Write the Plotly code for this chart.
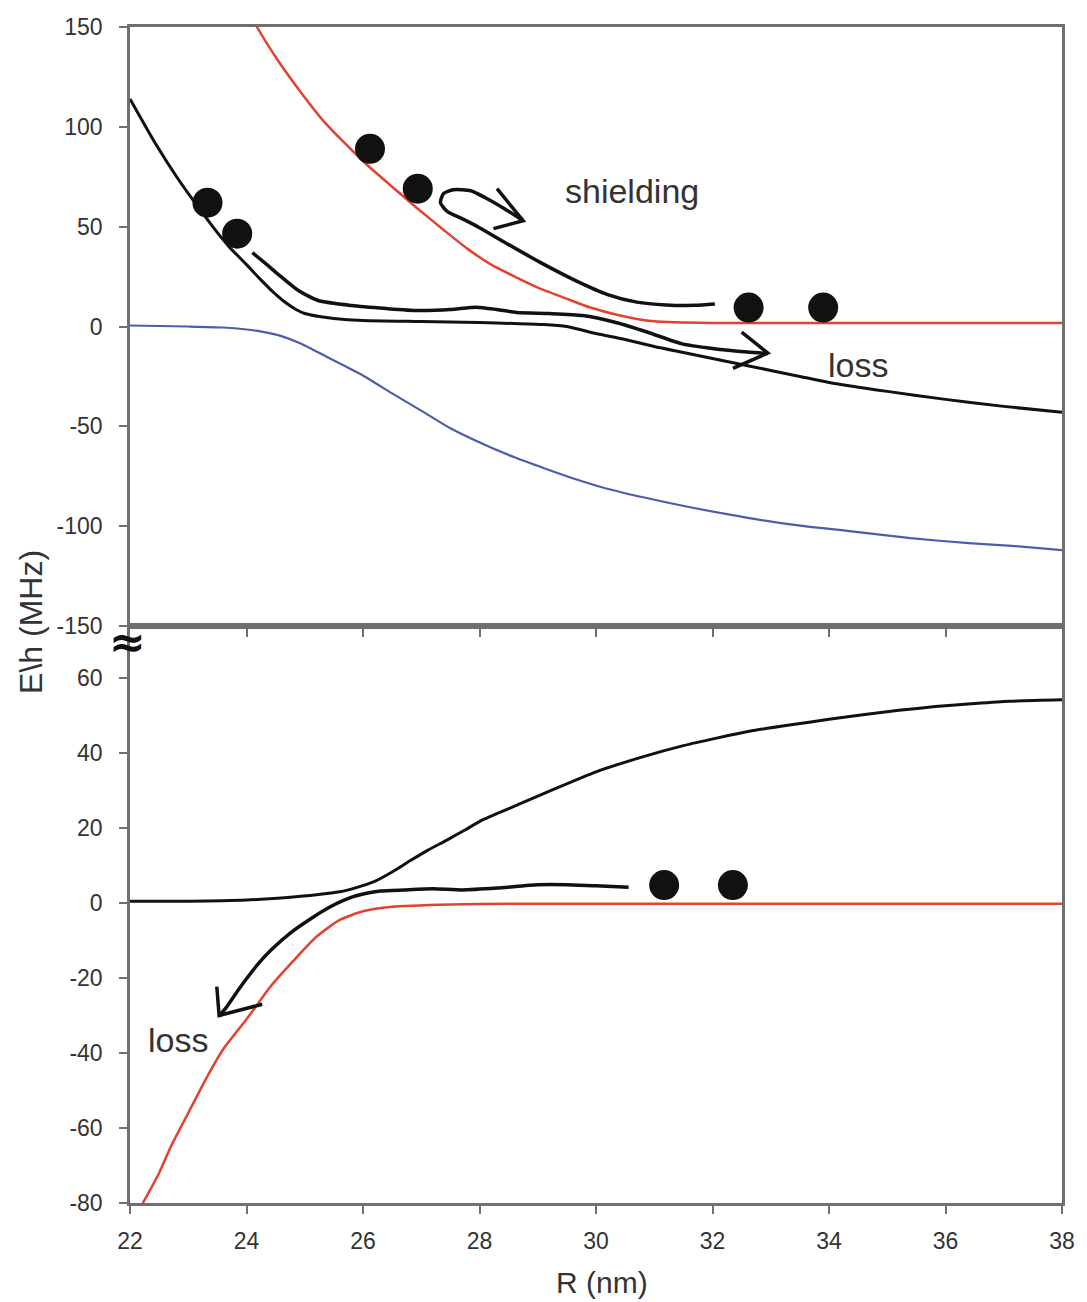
import plotly.graph_objects as go

# ---------------- upper panel (E/h in MHz vs R in nm) ----------------
R_up_red = [24.0, 24.18, 24.5, 24.89, 25.35, 26.03, 26.5, 26.94, 27.4, 27.79, 28.2, 28.64,
            29.0, 29.49, 29.9, 30.34, 30.7, 31.0, 31.5, 32.0, 34.0, 36.0, 38.0]
E_up_red = [160, 150, 135, 119, 102, 82, 70, 59, 48, 39, 31, 24.5,
            19.5, 14, 9.5, 6, 3.8, 2.6, 2.0, 1.8, 1.8, 1.8, 1.8]

R_up_black = [22.0, 22.45, 22.8, 23.19, 23.5, 23.7, 24.0, 24.21, 24.45, 24.67, 24.85, 25.0,
              25.25, 25.5, 26.0, 27.0, 28.0, 28.6, 29.1, 29.5, 30.0, 30.5, 31.0, 31.5,
              32.0, 32.5, 33.0, 33.5, 34.0, 35.0, 36.0, 37.0, 38.0]
E_up_black = [114, 91, 75, 59, 47, 40, 31, 24.5, 17.5, 12, 8.5, 6.5,
              5, 4, 3, 2.5, 2, 1.5, 1, 0, -3.5, -6.5, -10, -13,
              -16, -19, -22, -25, -28, -32.5, -36.5, -40, -43]

R_up_blue = [22.0, 23.0, 23.6, 24.0, 24.3, 24.6, 24.93, 25.4, 25.97, 26.5, 27.02, 27.5, 28.07,
             28.6, 29.11, 29.6, 30.16, 31.2, 32.25, 33.3, 34.35, 35.4, 36.4, 37.2, 38.0]
E_up_blue = [0.5, 0, -0.5, -1.5, -2.8, -4.8, -8.5, -15.5, -24, -33.5, -42.5, -51, -59,
             -65.5, -71, -76, -81, -88, -94, -99, -102.5, -106, -108.5, -110, -112]

# marked states
R_up_dots = [23.33, 23.84, 26.12, 26.94, 32.62, 33.9]
E_up_dots = [62, 46.5, 89, 69, 9.5, 9.5]

# sketched "shielding" path with its arrowhead
R_shield = [32.04, 31.7, 31.2, 30.7, 30.2, 29.65, 29.05, 28.5, 28.0, 27.7, 27.45, 27.33,
            27.38, 27.55, 27.85, 28.1, 28.4, 28.75]
E_shield = [11.3, 10.6, 10.8, 12.2, 16, 23, 32, 41, 49.5, 54, 57.5, 62,
            66.5, 68.5, 68, 64.5, 59.5, 53]
R_shield_head = [28.3, 28.75, 28.24]
E_shield_head = [69, 53, 49]

# sketched "loss" path (upper panel)
R_loss_up = [24.1, 24.35, 24.55, 24.89, 25.23, 25.8, 26.4, 26.94, 27.5, 27.95, 28.3, 28.64,
             29.2, 29.77, 30.34, 30.9, 31.48, 32.0, 32.6, 32.95]
E_loss_up = [37, 31, 26, 18, 13, 10.5, 9, 8, 8.5, 9.7, 8.5, 7,
             6.5, 5.5, 2, -3, -8.7, -11, -12.8, -13.5]
R_loss_up_head = [32.5, 32.95, 32.35]
E_loss_up_head = [-2.8, -13.3, -21]

# ---------------- lower panel ----------------
R_lo_black = [22.0, 23.0, 24.0, 24.7, 25.2, 25.6, 25.9, 26.2, 26.5, 26.8, 27.1, 27.44,
              27.75, 28.07, 28.7, 29.3, 30.0, 30.8, 31.5, 32.07, 32.7, 33.32, 34.0, 34.58,
              35.2, 35.83, 36.5, 37.09, 38.0]
E_lo_black = [0.5, 0.5, 0.8, 1.5, 2.2, 3, 4.2, 5.8, 8.3, 11.2, 14, 16.8,
              19.5, 22.3, 26.5, 30.5, 35, 39, 42, 44, 46, 47.5, 49, 50.2,
              51.4, 52.4, 53.2, 53.8, 54.2]

R_lo_red = [22.15, 22.5, 22.7, 23.0, 23.3, 23.6, 24.0, 24.4, 24.8, 25.2, 25.6, 26.0,
            26.5, 27.5, 28.5, 30.0, 34.0, 38.0]
E_lo_red = [-82, -72, -65, -56, -47, -39, -31, -22.5, -15.5, -9, -4.5, -2.2,
            -1, -0.4, -0.2, -0.2, -0.2, -0.2]

R_lo_dots = [31.17, 32.35]
E_lo_dots = [4.8, 4.8]

R_loss_lo = [30.56, 30.0, 29.5, 29.0, 28.3, 27.7, 27.2, 26.71, 26.3, 26.06, 25.74, 25.4,
             25.09, 24.75, 24.43, 24.2, 23.98, 23.8, 23.65, 23.53]
E_loss_lo = [4.2, 4.6, 4.9, 4.9, 4, 3.5, 3.8, 3.5, 3.2, 2.6, 1.2, -1.3,
             -4.3, -8, -12.4, -16.2, -20.6, -24.5, -27.9, -30.2]
R_loss_lo_head = [23.49, 23.53, 24.27]
E_loss_lo_head = [-22.3, -30.0, -27.0]

# axis ticks
x_ticks = [22, 24, 26, 28, 30, 32, 34, 36, 38]
x_ticks_up = [24, 26, 28, 30, 32, 34, 36]
y_up_ticks = [150, 100, 50, 0, -50, -100, -150]
y_up_text = ["150", "100", "50", "0", "-50", "-100", "-150"]
y_lo_ticks = [60, 40, 20, 0, -20, -40, -60, -80]
y_lo_text = ["60", "40", "20", "0", "-20", "-40", "-60", "-80"]

RED = "#e4412f"
BLUE = "#4c5db0"
INK = "#111111"
AXIS = "#6f6f6f"
TEXT = "#333333"
FONT = "Liberation Sans, Arial, sans-serif"

fig = go.Figure()


def line(x, y, color, width, axes, shape="spline"):
    fig.add_trace(go.Scatter(x=x, y=y, mode="lines",
                             line=dict(color=color, width=width, shape=shape, smoothing=0.6),
                             xaxis=axes[0], yaxis=axes[1], showlegend=False, hoverinfo="skip"))


def dots(x, y, axes):
    fig.add_trace(go.Scatter(x=x, y=y, mode="markers",
                             marker=dict(color=INK, size=30, line=dict(width=0)),
                             xaxis=axes[0], yaxis=axes[1], showlegend=False, hoverinfo="skip"))


UP = ("x2", "y2")
LO = ("x", "y")

# upper panel curves
line(R_up_blue, E_up_blue, BLUE, 2.2, UP)
line(R_up_red, E_up_red, RED, 2.5, UP)
line(R_up_black, E_up_black, INK, 3, UP)
line(R_shield, E_shield, INK, 3.5, UP)
line(R_shield_head, E_shield_head, INK, 3.5, UP, shape="linear")
line(R_loss_up, E_loss_up, INK, 3.5, UP)
line(R_loss_up_head, E_loss_up_head, INK, 3.5, UP, shape="linear")
dots(R_up_dots, E_up_dots, UP)

# lower panel curves
line(R_lo_red, E_lo_red, RED, 2.5, LO)
line(R_lo_black, E_lo_black, INK, 3, LO)
line(R_loss_lo, E_loss_lo, INK, 3.5, LO)
line(R_loss_lo_head, E_loss_lo_head, INK, 3.5, LO, shape="linear")
dots(R_lo_dots, E_lo_dots, LO)

split = 577 / 1176

common_axis = dict(showline=True, linecolor=AXIS, linewidth=2.5, mirror=True,
                   ticks="outside", ticklen=8, tickwidth=2, tickcolor=AXIS,
                   showgrid=False, zeroline=False,
                   tickfont=dict(family=FONT, size=23, color=TEXT))

fig.update_layout(
    width=1087, height=1302,
    margin=dict(l=130, r=17, t=27, b=99),
    paper_bgcolor="white", plot_bgcolor="white",
    xaxis=dict(domain=[0, 1], range=[22, 38], anchor="y",
               tickvals=x_ticks, ticklabelstandoff=8, **common_axis),
    yaxis=dict(domain=[0, split], range=[-80, 73.9], anchor="x",
               tickvals=y_lo_ticks, ticktext=y_lo_text, ticklabelstandoff=12, **common_axis),
    xaxis2=dict(domain=[0, 1], range=[22, 38], anchor="y2",
                tickvals=x_ticks_up, showticklabels=False, **common_axis),
    yaxis2=dict(domain=[split, 1], range=[-150, 150], anchor="x2",
                tickvals=y_up_ticks, ticktext=y_up_text, ticklabelstandoff=12, **common_axis),
)

annotations = [
    dict(text="shielding", x=30.61, y=68, xref="x2", yref="y2", font_size=34),
    dict(text="loss", x=34.49, y=-19.5, xref="x2", yref="y2", font_size=34),
    dict(text="loss", x=22.83, y=-36.5, xref="x", yref="y", font_size=34),
    dict(text="<b>≈</b>", x=-0.003, y=(1203 - 641) / 1176, xref="paper", yref="paper",
         font_size=44, font_color=INK, font_family="DejaVu Sans"),
    dict(text="E\\h (MHz)", x=-0.1064, y=0.494, xref="paper", yref="paper",
         textangle=-90, font_size=32),
    dict(text="R (nm)", x=0.5064, y=-0.068, xref="paper", yref="paper", font_size=30),
]
for a in annotations:
    a.setdefault("font_color", TEXT)
    a.setdefault("font_family", FONT)
    fig.add_annotation(showarrow=False, xanchor="center", yanchor="middle", **a)

fig.write_html("out.html")
